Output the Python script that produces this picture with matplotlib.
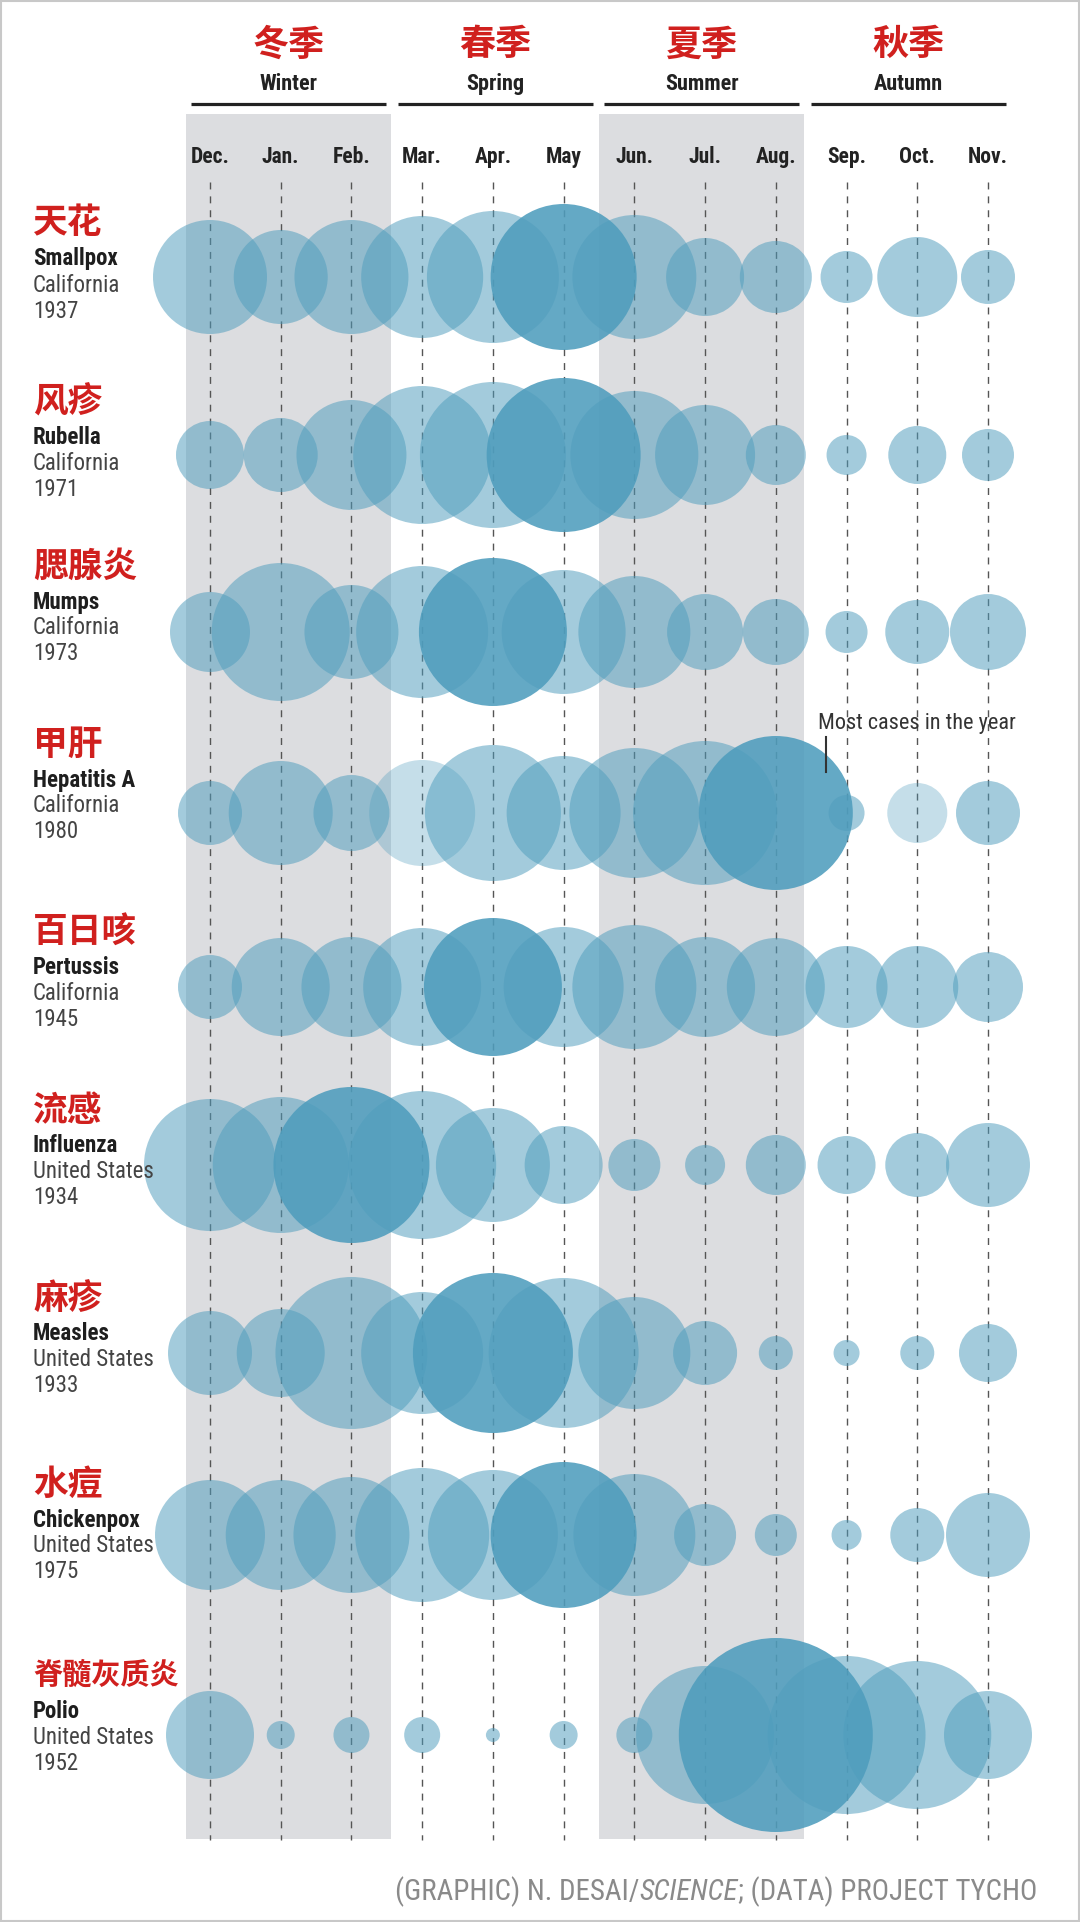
import matplotlib
matplotlib.use("Agg")
import matplotlib.pyplot as plt
from matplotlib.patches import Circle, Rectangle
from matplotlib import font_manager

# pick a narrow latin font if one is installed
installed = {f.name for f in font_manager.fontManager.ttflist}
LATIN = next((f for f in ["Roboto Condensed", "Liberation Sans Narrow", "Roboto"] if f in installed), "DejaVu Sans")
CJK = ["Noto Sans CJK SC", "DejaVu Sans"]

# ---- data ----
months = ["Dec.", "Jan.", "Feb.", "Mar.", "Apr.", "May", "Jun.", "Jul.", "Aug.", "Sep.", "Oct.", "Nov."]
seasons_cn = ["冬季", "春季", "夏季", "秋季"]
seasons_en = ["Winter", "Spring", "Summer", "Autumn"]

diseases_cn = ["天花", "风疹", "腮腺炎", "甲肝", "百日咳", "流感", "麻疹", "水痘", "脊髓灰质炎"]
diseases_en = ["Smallpox", "Rubella", "Mumps", "Hepatitis A", "Pertussis", "Influenza", "Measles", "Chickenpox", "Polio"]
places = ["California", "California", "California", "California", "California",
          "United States", "United States", "United States", "United States"]
years = ["1937", "1971", "1973", "1980", "1945", "1934", "1933", "1975", "1952"]

# bubble radius per month (Dec..Nov)
smallpox   = [57, 47, 57, 61, 66, 73, 62, 39, 36, 26, 40, 27]
rubella    = [34, 37, 55, 69, 73, 77, 64, 50, 30, 20, 29, 26]
mumps      = [40, 69, 47, 66, 74, 62, 56, 38, 33, 21, 32, 38]
hepatitis  = [32, 52, 38, 53, 68, 57, 65, 72, 77, 18, 30, 32]
pertussis  = [32, 49, 50, 59, 69, 60, 62, 50, 49, 41, 41, 35]
influenza  = [66, 68, 78, 74, 57, 39, 26, 20, 30, 29, 32, 42]
measles    = [42, 44, 76, 61, 80, 75, 56, 32, 17, 13, 17, 29]
chickenpox = [55, 55, 58, 67, 65, 73, 61, 31, 21, 15, 27, 42]
polio      = [44, 14, 18, 18, 7, 14, 18, 69, 97, 79, 74, 44]
rows = [smallpox, rubella, mumps, hepatitis, pertussis, influenza, measles, chickenpox, polio]

# paler bubbles in the hepatitis row (Mar., Oct.)
pale = {(3, 3), (3, 10)}

# ---- layout (pixels) ----
W, H = 1080, 1922
X0, DX = 210, (988 - 210) / 11
row_y = [277, 455, 632, 813, 987, 1165, 1353, 1535, 1735]
label_y = [259, 438, 602, 780, 967, 1146, 1334, 1520, 1711]
BAND_X0, BAND_STEP, BAND_W = 186, 206.7, 205
BAND_TOP, BAND_BOTTOM = 114, 1839

RED = "#d0201e"
BLUE = "#4f9dbd"
GRAY_BAND = "#dcdde0"

fig = plt.figure(figsize=(W / 100, H / 100), dpi=100)
ax = fig.add_axes([0, 0, 1, 1])
ax.set_xlim(0, W)
ax.set_ylim(H, 0)
ax.axis("off")

def mx(i):
    return X0 + i * DX

# season bands, header lines and titles
for k in range(4):
    left = BAND_X0 + k * BAND_STEP
    cx = left + BAND_W / 2
    if k in (0, 2):
        ax.add_patch(Rectangle((left, BAND_TOP), BAND_W, BAND_BOTTOM - BAND_TOP,
                               facecolor=GRAY_BAND, edgecolor="none", zorder=0))
    ax.plot([left + 5, left + BAND_W - 5], [104, 104], color="#222222", lw=2.3,
            solid_capstyle="butt", zorder=2)
    ax.text(cx, 45, seasons_cn[k], color=RED, fontsize=26, fontweight="bold",
            family=CJK, ha="center", va="center")
    ax.text(cx, 84, seasons_en[k], color="#222222", fontsize=16, fontweight="semibold",
            family=LATIN, ha="center", va="center")

# month labels and dashed guides
for i, m in enumerate(months):
    ax.text(mx(i), 157, m, color="#222222", fontsize=15.5, fontweight="bold",
            family=LATIN, ha="center", va="center")
    ax.plot([mx(i), mx(i)], [182, 1840], color="#555555", lw=1.0,
            linestyle=(0, (5, 5)), zorder=1)

# bubbles
for r, vals in enumerate(rows):
    top = max(range(12), key=lambda i: vals[i])
    for i, v in enumerate(vals):
        if i == top:
            continue
        a = 0.33 if (r, i) in pale else 0.52
        ax.add_patch(Circle((mx(i), row_y[r]), v, facecolor=BLUE, alpha=a,
                            edgecolor="none", zorder=3))
    ax.add_patch(Circle((mx(top), row_y[r]), vals[top], facecolor=BLUE, alpha=0.88,
                        edgecolor="none", zorder=4))

# row labels
for r in range(len(rows)):
    y = label_y[r]
    ax.text(33, y - 36, diseases_cn[r], color=RED, fontsize=25 if len(diseases_cn[r]) < 4 else 21,
            fontweight="bold", family=CJK, ha="left", va="center", zorder=6)
    ax.text(33, y, diseases_en[r], color="#1e1e1e", fontsize=16.5, fontweight="bold",
            family=LATIN, ha="left", va="center", zorder=6)
    ax.text(33, y + 26, places[r], color="#444444", fontsize=16.5,
            family=LATIN, ha="left", va="center", zorder=6)
    ax.text(33, y + 52, years[r], color="#444444", fontsize=16.5,
            family=LATIN, ha="left", va="center", zorder=6)

# annotation on the hepatitis A peak
ax.text(818, 723, "Most cases in the year", color="#333333", fontsize=16,
        family=LATIN, ha="left", va="center", zorder=6)
ax.plot([826, 826], [737, 772], color="#333333", lw=1.5, zorder=6)

# credit line, right aligned, with SCIENCE in italics
renderer = fig.canvas.get_renderer()
right = 1037
parts = [("(GRAPHIC) N. DESAI/", "normal"), ("SCIENCE", "italic"), ("; (DATA) PROJECT TYCHO", "normal")]
for txt, style in reversed(parts):
    t = ax.text(right, 1892, txt, color="#8a8a8a", fontsize=20.8, style=style,
                family=LATIN, ha="right", va="center")
    bb = t.get_window_extent(renderer=renderer)
    right -= bb.width

# thin frame around the picture
ax.add_patch(Rectangle((1, 1), W - 2, H - 2, facecolor="none", edgecolor="#c8c8c8", lw=1.5, zorder=10))

fig.savefig("out.png", dpi=100)
